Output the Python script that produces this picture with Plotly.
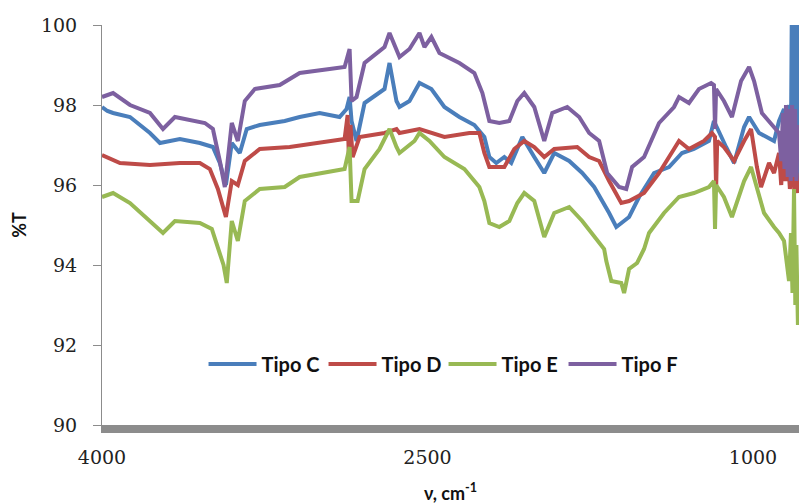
import plotly.graph_objects as go

# ---- data (wavenumber cm-1, %T) ----
c_x = [4000, 3975, 3949, 3871, 3779, 3733, 3641, 3549, 3489, 3457, 3429, 3402, 3365, 3333, 3273,
       3158, 3089, 2997, 2905, 2873, 2859, 2850, 2827, 2790, 2698, 2675, 2643, 2629, 2583, 2537,
       2482, 2422, 2353, 2284, 2238, 2215, 2183, 2146, 2114, 2063, 2008, 1962, 1916, 1847, 1787,
       1732, 1663, 1630, 1571, 1525, 1456, 1387, 1327, 1272, 1203, 1180, 1124, 1087, 1041, 1018,
       972, 903, 880, 857, 845, 834, 825, 821, 816, 811, 806, 802, 797, 793]
c_y = [97.95, 97.85, 97.8, 97.7, 97.3, 97.05, 97.15, 97.05, 96.95, 96.55, 96.0, 97.05, 96.8, 97.4, 97.5,
       97.6, 97.7, 97.8, 97.7, 97.9, 98.2, 97.6, 97.1, 98.05, 98.4, 99.05, 98.1, 97.95, 98.1, 98.55,
       98.4, 97.95, 97.7, 97.5, 97.2, 96.7, 96.55, 96.7, 96.55, 97.2, 96.7, 96.3, 96.8, 96.6, 96.3,
       95.95, 95.3, 94.95, 95.2, 95.7, 96.3, 96.45, 96.8, 96.9, 97.1, 97.6, 96.95, 96.55, 97.45, 97.7,
       97.3, 97.1, 97.6, 97.9, 97.5, 98.0, 97.2, 100.5, 96.5, 100.5, 96.0, 100.5, 95.8, 100.5]

d_x = [4000, 3917, 3779, 3641, 3549, 3503, 3466, 3429, 3402, 3374, 3342, 3273, 3135, 2997, 2882,
       2868, 2862, 2855, 2845, 2813, 2698, 2643, 2629, 2537, 2422, 2307, 2261, 2238, 2215, 2146,
       2100, 2054, 2008, 1962, 1916, 1810, 1755, 1709, 1663, 1607, 1571, 1502, 1433, 1364, 1341,
       1295, 1226, 1189, 1175, 1170, 1165, 1134, 1087, 1041, 1009, 982, 963, 926, 903, 880, 870,
       860, 850, 840, 830, 820, 810, 800, 793]
d_y = [96.75, 96.55, 96.5, 96.55, 96.55, 96.4, 95.9, 95.2, 96.1, 96.0, 96.6, 96.9, 96.95, 97.05, 97.15,
       97.75, 96.6, 97.5, 96.7, 97.2, 97.3, 97.4, 97.3, 97.4, 97.2, 97.3, 97.3, 96.8, 96.45, 96.45,
       96.9, 97.1, 96.95, 96.7, 96.9, 96.95, 96.7, 96.6, 96.1, 95.55, 95.6, 95.8, 96.3, 96.9, 97.1,
       96.9, 97.1, 97.3, 97.2, 95.9, 97.1, 96.95, 96.6, 97.1, 97.4, 96.45, 95.95, 96.55, 96.3, 96.8, 96.0,
       96.9, 96.1, 96.8, 95.9, 96.6, 95.9, 96.3, 95.8]

e_x = [4000, 3949, 3871, 3779, 3719, 3664, 3549, 3494, 3466, 3440, 3425, 3402, 3374, 3342, 3273,
       3158, 3089, 2997, 2882, 2859, 2850, 2822, 2790, 2721, 2675, 2643, 2629, 2560, 2537, 2491,
       2422, 2330, 2261, 2238, 2215, 2169, 2123, 2086, 2054, 2008, 1962, 1916, 1847, 1787, 1732,
       1686, 1676, 1653, 1607, 1594, 1571, 1534, 1502, 1479, 1410, 1341, 1272, 1203, 1180, 1175,
       1170, 1134, 1097, 1041, 1009, 982, 949, 903, 880, 857, 845, 834, 825, 818, 811, 805, 800, 796, 793]
e_y = [95.7, 95.8, 95.55, 95.1, 94.8, 95.1, 95.05, 94.9, 94.4, 94.0, 93.55, 95.1, 94.6, 95.6, 95.9,
       95.95, 96.2, 96.3, 96.4, 96.95, 95.6, 95.6, 96.4, 96.9, 97.4, 96.95, 96.8, 97.1, 97.3, 97.1,
       96.7, 96.4, 95.95, 95.6, 95.05, 94.95, 95.1, 95.55, 95.8, 95.6, 94.7, 95.3, 95.45, 95.1, 94.7,
       94.4, 94.1, 93.6, 93.55, 93.3, 93.9, 94.05, 94.4, 94.8, 95.3, 95.7, 95.8, 95.95, 96.1, 94.9,
       96.0, 95.7, 95.2, 96.1, 96.45, 95.95, 95.3, 94.95, 94.8, 94.6, 94.0, 93.6, 94.8, 93.3, 95.9, 93.0, 94.5, 92.6, 92.5]

f_x = [4000, 3949, 3871, 3779, 3719, 3664, 3526, 3489, 3457, 3434, 3402, 3374, 3342, 3296, 3181,
       3089, 2951, 2882, 2859, 2850, 2827, 2790, 2698, 2675, 2629, 2583, 2537, 2514, 2482, 2445,
       2353, 2284, 2247, 2215, 2169, 2123, 2086, 2054, 2008, 1962, 1925, 1856, 1801, 1755, 1709,
       1672, 1617, 1584, 1557, 1502, 1433, 1364, 1341, 1295, 1249, 1193, 1180, 1175, 1170, 1134,
       1097, 1055, 1018, 995, 959, 903, 880, 870, 862, 855, 848, 840, 833, 826, 820, 813, 806, 800, 793]
f_y = [98.2, 98.3, 98.0, 97.8, 97.4, 97.7, 97.55, 97.4, 96.6, 95.95, 97.55, 97.1, 98.1, 98.4, 98.5,
       98.8, 98.9, 98.95, 99.4, 98.1, 98.2, 99.05, 99.45, 99.8, 99.2, 99.4, 99.8, 99.45, 99.7, 99.3,
       99.05, 98.8, 98.3, 97.6, 97.55, 97.6, 98.1, 98.3, 97.95, 97.1, 97.8, 97.95, 97.7, 97.3, 97.1,
       96.3, 95.95, 95.9, 96.45, 96.7, 97.55, 97.95, 98.2, 98.05, 98.4, 98.55, 98.5, 97.4, 98.4, 98.1,
       97.7, 98.6, 98.95, 98.6, 97.8, 97.45, 97.3, 96.6, 97.8, 96.4, 98.0, 96.2, 97.9, 96.1, 98.0, 96.2, 97.9, 96.1, 97.5]

names = ["Tipo C", "Tipo D", "Tipo E", "Tipo F"]
colors = ["#4A7EBB", "#BE4B48", "#98B954", "#7D60A0"]
series = [(c_x, c_y), (d_x, d_y), (e_x, e_y), (f_x, f_y)]

x_ticks = [4000, 2500, 1000]
y_ticks = [90, 92, 94, 96, 98, 100]

fig = go.Figure()
for (xs, ys), n, col in zip(series, names, colors):
    fig.add_trace(go.Scatter(x=xs, y=ys, name=n, mode="lines",
                             line=dict(color=col, width=4)))

tickfont = dict(family="DejaVu Serif", size=19, color="#222222")
fig.update_layout(
    width=799, height=504,
    margin=dict(l=102, r=0, t=25, b=79, autoexpand=False),
    paper_bgcolor="white", plot_bgcolor="white",
    showlegend=True,
    legend=dict(orientation="h", x=0.49, xanchor="center", y=0.1525, yanchor="middle",
                bgcolor="rgba(0,0,0,0)", itemwidth=48,
                font=dict(family="Lato", size=20, color="#111111", weight="bold"),
                entrywidth=57, entrywidthmode="pixels"),
    xaxis=dict(range=[4000, 788], tickvals=x_ticks, ticktext=[str(v) for v in x_ticks],
               automargin=False,
               showgrid=False, zeroline=False, showline=True, linecolor="#8c8c8c", linewidth=8,
               ticks="", tickfont=tickfont, ticklabelstandoff=8,
               title=dict(text="ν, cm<sup>-1</sup>", standoff=25,
                          font=dict(family="Lato", size=18, color="#111111", weight="bold"))),
    yaxis=dict(range=[90, 100], tickvals=y_ticks, showgrid=False, zeroline=False,
               automargin=False,
               showline=True, linecolor="#8c8c8c", linewidth=1,
               ticks="outside", ticklen=8, tickcolor="#8c8c8c", tickfont=tickfont,
               ticklabelstandoff=12,
               title=dict(text="%T", standoff=9,
                          font=dict(family="Lato", size=18, color="#111111", weight="bold"))),
)

fig.write_html(
    "out.html",
    config={"displayModeBar": False},
    post_script="document.body.style.margin='0';document.body.style.overflow='hidden';",
)
